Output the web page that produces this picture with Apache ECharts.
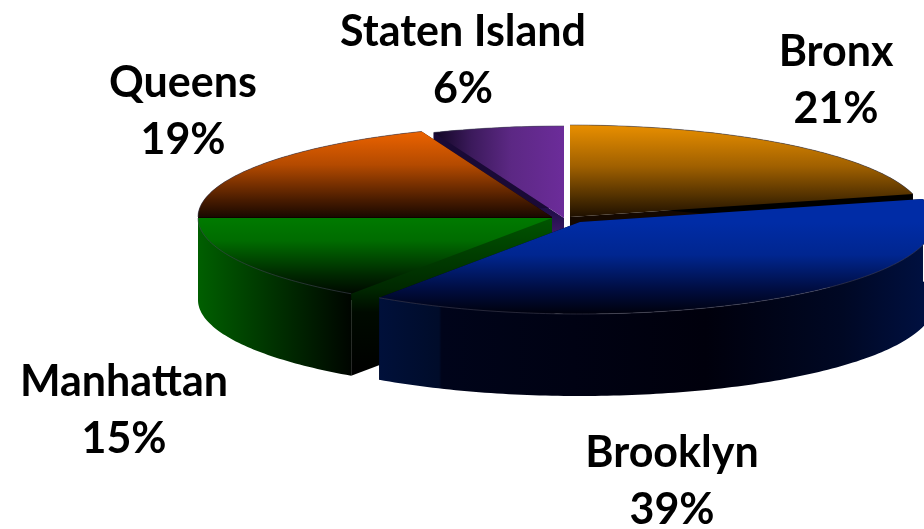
<!DOCTYPE html>
<html>
<head>
<meta charset="utf-8">
<style>
  html, body { margin: 0; padding: 0; background: #fff; }
  #chart { width: 924px; height: 529px; }
</style>
</head>
<body>
<div id="chart"></div>
<script src="https://cdn.jsdelivr.net/npm/echarts@6/dist/echarts.min.js"></script>
<script>
const categories = ['Bronx', 'Brooklyn', 'Manhattan', 'Queens', 'Staten Island']
const shares = [21, 38.6, 15.4, 19, 6]

// pie layout
const centerX = 558
const centerY = 217
const radiusX = 354
const radiusY = 92
const depth = 82
const total = shares.reduce((a, b) => a + b, 0)

const LinearGradient = echarts.graphic.LinearGradient

const vertical = (y0, y1, stops) => new LinearGradient(0, y0, 0, y1, stops.map(c => ({ offset: c[0], color: c[1] })), true)
const horizontal = (x0, x1, stops) => new LinearGradient(x0, 0, x1, 0, stops.map(c => ({ offset: c[0], color: c[1] })), true)

// how each slice looks: shift from the pie centre, draw order, label spot, fills
const looks = {
  'Bronx': {
    dx: 12, dy: 0, order: 1, labelX: 836, labelY: 81,
    top: vertical(124, 218, [[0, '#ea9000'], [0.45, '#a06000'], [0.8, '#4a2c00'], [1, '#1c0e00']]),
    side: '#000000',
    face: '#140800'
  },
  'Brooklyn': {
    dx: 22, dy: 5, order: 5, labelX: 672, labelY: 482,
    top: vertical(222, 316, [[0, '#002ca6'], [0.35, '#002690'], [0.7, '#000e44'], [1, '#000008']]),
    side: horizontal(379, 924, [[0, '#00103a'], [0.11, '#000c2a'], [0.115, '#00041a'], [0.6, '#00000c'], [0.85, '#000824'], [1, '#001040']]),
    face: '#000010'
  },
  'Manhattan': {
    dx: -6, dy: 1, order: 4, labelX: 124, labelY: 411,
    top: vertical(218, 294, [[0, '#007a00'], [0.3, '#006c00'], [0.75, '#002800'], [1, '#000800']]),
    side: horizontal(200, 353, [[0, '#005e00'], [0.5, '#003000'], [1, '#000400']]),
    face: vertical(218, 375, [[0, '#005500'], [0.45, '#002800'], [0.6, '#000a00'], [1, '#000000']])
  },
  'Queens': {
    dx: -6, dy: 0, order: 3, labelX: 183, labelY: 112,
    top: vertical(130, 217, [[0, '#ee6400'], [0.4, '#b44a00'], [0.8, '#4a1c00'], [1, '#1a0800']]),
    side: '#100000',
    face: '#100000'
  },
  'Staten Island': {
    dx: 6, dy: 1, order: 2, labelX: 463, labelY: 61,
    top: horizontal(432, 564, [[0, '#0e0420'], [0.3, '#3c1a5c'], [0.6, '#5c2884'], [1, '#6c2c9a']]),
    side: '#1a0a36',
    face: vertical(130, 234, [[0, '#0c0630'], [0.8, '#220f4a'], [1, '#3c1866']])
  }
}

// point on the rim: angle in degrees, clockwise from 12 o'clock
function rim(cx, cy, deg) {
  const a = deg * Math.PI / 180
  return [cx + radiusX * Math.sin(a), cy - radiusY * Math.cos(a)]
}

function arcPoints(cx, cy, from, to) {
  const pts = []
  const steps = Math.max(2, Math.ceil(to - from))
  for (let i = 0; i <= steps; i++) {
    pts.push(rim(cx, cy, from + (to - from) * i / steps))
  }
  return pts
}

const drop = p => [p[0], p[1] + depth]

function renderSlice(params, api) {
  const i = params.dataIndex
  const look = looks[categories[i]]
  let before = 0
  for (let k = 0; k < i; k++) before += shares[k]
  const from = before / total * 360
  const to = (before + api.value(0)) / total * 360

  const cx = centerX + look.dx
  const cy = centerY + look.dy
  const tip = [cx, cy]
  const arc = arcPoints(cx, cy, from, to)
  const first = arc[0]
  const last = arc[arc.length - 1]
  const z2 = look.order * 10

  const poly = (points, fill, extra) => Object.assign({
    type: 'polygon',
    shape: { points: points },
    style: { fill: fill },
    z2: z2
  }, extra)

  const children = [
    poly([tip, first, drop(first), drop(tip)], look.face),
    poly([tip, last, drop(last), drop(tip)], look.face),
    poly(arc.concat(arc.slice().reverse().map(drop)), look.side, { z2: z2 + 1 }),
    poly([tip].concat(arc), look.top, { z2: z2 + 2 }),
    {
      type: 'polyline',
      shape: { points: arc },
      style: { fill: null, stroke: 'rgba(70,70,90,0.55)', lineWidth: 1 },
      z2: z2 + 3
    },
    {
      type: 'text',
      style: {
        text: categories[i] + '\n' + Math.round(api.value(0)) + '%',
        x: look.labelX,
        y: look.labelY,
        align: 'center',
        verticalAlign: 'middle',
        fill: '#000000',
        font: 'bold 43px Lato',
        lineHeight: 57
      },
      z2: 100
    }
  ]
  return { type: 'group', children: children }
}

const chart = echarts.init(document.getElementById('chart'))
chart.setOption({
  animation: false,
  backgroundColor: '#ffffff',
  series: [{
    type: 'custom',
    coordinateSystem: 'none',
    renderItem: renderSlice,
    data: shares.map(v => [v]),
    silent: true
  }]
})
</script>
</body>
</html>
